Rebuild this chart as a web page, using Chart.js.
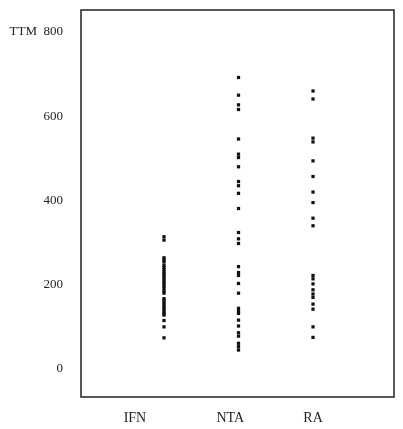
<!DOCTYPE html>
<html>
<head>
<meta charset="utf-8">
<script src="https://cdn.jsdelivr.net/npm/chart.js@4"></script>
<style>
  html, body { margin: 0; padding: 0; background: #fff; }
  #wrap { width: 403px; height: 429px; }
</style>
</head>
<body>
<div id="wrap"><canvas id="c" width="403" height="429"></canvas></div>
<script>
// ---- data ----
const categories = ['IFN', 'NTA', 'RA'];
const categoryX = [1, 2, 3];                 // where each group's points sit
const categoryLabelX = [0.61, 1.89, 3.0];    // where each group's label sits
const yTicks = [0, 200, 400, 600, 800];
const yAxisLabel = 'TTM';

const ifnValues = [314, 306, 264, 259, 254, 246, 241, 236, 231, 226, 221, 216, 211, 206, 201, 196, 191, 185, 180, 167, 162, 157, 152, 147, 142, 137, 132, 128, 115, 100, 74];
const ntaValues = [692, 650, 627, 616, 546, 510, 502, 480, 445, 435, 417, 381, 324, 309, 298, 243, 229, 222, 203, 180, 144, 137, 132, 116, 102, 86, 78, 61, 53, 45];
const raValues  = [660, 641, 548, 539, 494, 457, 420, 395, 358, 340, 222, 214, 202, 188, 178, 170, 154, 142, 100, 75];

const seriesValues = [ifnValues, ntaValues, raValues];

const datasets = seriesValues.map((vals, i) => ({
  label: categories[i],
  data: vals.map(v => ({ x: categoryX[i], y: v })),
  pointStyle: 'rect',
  pointRadius: 2.3,
  pointBorderWidth: 0,
  backgroundColor: '#111',
  borderColor: '#111'
}));

const boxPlugin = {
  id: 'box',
  afterDraw(chart) {
    const a = chart.chartArea;
    const ctx = chart.ctx;
    ctx.save();
    ctx.strokeStyle = '#222';
    ctx.lineWidth = 1.5;
    ctx.strokeRect(a.left, a.top, a.right - a.left, a.bottom - a.top);
    ctx.restore();
  }
};

new Chart(document.getElementById('c'), {
  type: 'scatter',
  data: { datasets },
  options: {
    responsive: false,
    animation: false,
    layout: { padding: { top: 10, right: 9, left: 0, bottom: 0 } },
    plugins: { legend: { display: false }, tooltip: { enabled: false } },
    scales: {
      x: {
        type: 'linear',
        min: -0.114,
        max: 4.087,
        grid: { display: false, drawTicks: false },
        border: { display: false },
        afterBuildTicks(scale) {
          scale.ticks = categoryLabelX.map(v => ({ value: v }));
        },
        afterFit(scale) {
          scale.height = 32;
          scale.paddingLeft = 0; scale.paddingRight = 0;
        },
        ticks: {
          padding: 13,
          autoSkip: false,
          maxRotation: 0,
          color: '#222',
          font: { family: 'Liberation Serif', size: 14 },
          callback(value) {
            const idx = categoryLabelX.findIndex(p => Math.abs(p - value) < 1e-6);
            return idx >= 0 ? categories[idx] : '';
          }
        }
      },
      y: {
        type: 'linear',
        min: -66.5,
        max: 852.2,
        grid: { display: false, drawTicks: false },
        border: { display: false },
        afterBuildTicks(scale) {
          scale.ticks = yTicks.map(v => ({ value: v }));
        },
        afterFit(scale) {
          scale.width = 81;
          scale.paddingTop = 0; scale.paddingBottom = 0;
        },
        ticks: {
          padding: 18,
          color: '#222',
          font: { family: 'Liberation Serif', size: 13 },
          callback(value) {
            return value === 800 ? yAxisLabel + '  ' + value : String(value);
          }
        }
      }
    }
  },
  plugins: [boxPlugin]
});
</script>
</body>
</html>
